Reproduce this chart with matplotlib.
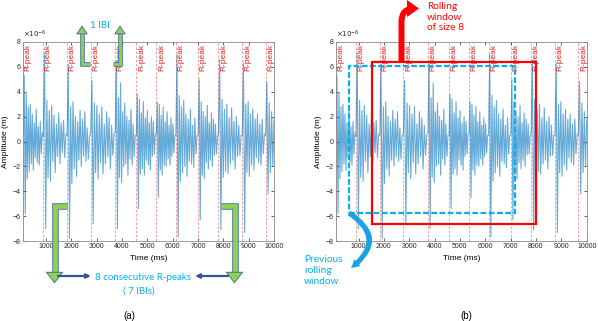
import numpy as np
import matplotlib.pyplot as plt
from matplotlib.patches import FancyArrowPatch, Rectangle
from matplotlib.path import Path
import matplotlib.patheffects as pe

W, H = 598, 321

# R-peak times (ms) and the signal, one list of samples per beat (x1e-6 m)
rpeaks = [110, 900, 1840, 2770, 3740, 4570, 5360, 6130, 7010, 7810, 8750, 9670]
t_end = 10000
beats = [
    [0.6, 5.3, -5.8, 3.9, -3.0, 2.8, -2.4, 3.0, -1.8, 2.2, -2.3, 1.5, -1.3, 2.6, -1.7, 1.2, -1.9, 1.6, -1.0, 0.7],
    [0.4, 7.1, -7.0, 3.3, -2.9, 2.5, -3.2, 2.9, -1.6, 2.1, -2.5, 1.4, -1.2, 2.3, -1.8, 1.5, -0.9, 1.7, -1.3, 0.6],
    [0.5, 6.2, -7.8, 2.8, -3.4, 3.2, -2.2, 2.0, -2.8, 1.6, -1.5, 2.5, -2.0, 1.8, -1.2, 2.4, -1.6, 1.1, -1.4, 0.5],
    [0.6, 4.9, -6.6, 3.1, -2.5, 2.9, -3.0, 2.2, -1.7, 2.8, -2.6, 1.4, -1.8, 2.4, -1.2, 1.9, -2.2, 1.3, -1.1, 0.6],
    [0.7, 6.5, -7.0, 3.5, -2.9, 4.7, -3.3, 2.4, -2.0, 3.1, -1.8, 2.0, -2.7, 1.7, -1.4, 2.6, -1.9, 1.4, -1.2, 0.5],
    [0.5, 3.8, -5.4, 3.4, -2.6, 2.3, -2.2, 3.2, -2.7, 1.9, -1.5, 2.5, -1.9, 1.5, -2.3, 2.0, -1.2, 1.6, -1.0, 0.6],
    [0.6, 3.2, -4.5, 3.0, -2.3, 2.1, -2.7, 2.8, -1.9, 1.6, -2.0, 2.4, -1.4, 1.3, -1.9, 1.9, -1.2, 1.4, -0.9, 0.5],
    [0.5, 7.0, -7.7, 3.7, -3.2, 2.8, -2.5, 3.3, -2.0, 2.2, -2.8, 1.8, -1.6, 2.6, -1.8, 1.3, -2.1, 1.9, -1.0, 0.5],
    [0.6, 5.0, -6.3, 3.2, -2.7, 2.4, -3.0, 2.0, -1.7, 2.9, -2.2, 1.5, -1.5, 2.3, -2.0, 1.8, -1.1, 1.4, -1.0, 0.4],
    [0.7, 6.6, -7.1, 3.4, -2.9, 2.6, -2.4, 3.0, -2.6, 1.9, -1.8, 2.7, -1.5, 1.6, -2.2, 2.0, -1.2, 1.3, -1.1, 0.5],
    [0.5, 6.3, -7.3, 3.0, -2.5, 3.2, -2.8, 2.2, -1.9, 2.6, -2.3, 1.8, -1.3, 2.2, -1.7, 1.4, -1.9, 1.8, -1.0, 0.6],
    [0.5, 4.8, -4.2, 3.1, -2.5, 2.4, -2.0, 1.8],
]
xticks = [1000, 2000, 3000, 4000, 5000, 6000, 7000, 8000, 9000, 10000]
yticks = [-8, -6, -4, -2, 0, 2, 4, 6, 8]

# windows in panel (b): [t start, t end, amp low, amp high]
red_window = [1520, 7990, -6.63, 6.42]
blue_window = [637, 7173, -5.77, 6.1]

GREEN = '#92d050'
EDGE = '#41719c'
LBLUE = '#00b0f0'
DBLUE = '#2f5597'
ann_font = 'Lato'


def signal():
    tt = []
    yy = []
    bounds = rpeaks[1:] + [t_end]
    for k, seg in enumerate(beats):
        last = (k == len(beats) - 1)
        tt.append(np.linspace(rpeaks[k], bounds[k], len(seg), endpoint=last))
        yy.append(seg)
    return np.concatenate(tt), np.concatenate(yy)


def fp(x, y):
    # pixel (from top left) -> figure fraction
    return (x / W, 1 - y / H)


def draw_panel(ax):
    t, y = signal()
    for r in rpeaks:
        ax.axvline(r, color='red', alpha=0.45, lw=0.6, ls=(0, (3, 2)), zorder=1)
        ax.text(r + 200, 7.8, 'R-peak', rotation=90, color='#e02020', fontsize=6,
                ha='center', va='top', zorder=3)
    ax.plot(t, y, color='#0072bd', lw=0.8, alpha=0.6, zorder=2)
    ax.set_xlim(100, 10000)
    ax.set_ylim(-8, 8)
    ax.set_xticks(xticks)
    ax.set_yticks(yticks)
    ax.tick_params(direction='in', length=2, width=0.5, top=True, right=True,
                   labelsize=5, pad=1.5, colors='#262626')
    for s in ax.spines.values():
        s.set_color('#8c8c8c')
        s.set_linewidth(0.6)
    ax.set_xlabel('Time (ms)', fontsize=6)
    ax.set_ylabel('Amplitude (m)', fontsize=6)
    ax.xaxis.set_label_coords(0.5, -0.072)
    ax.yaxis.set_label_coords(-0.055, 0.5)
    ax.text(0.0, 1.008, r'$\times10^{-6}$', transform=ax.transAxes, fontsize=5,
            ha='left', va='bottom', color='#262626')


def elbow(fig, pts, lw, hl, hw):
    verts = [fp(*p) for p in pts]
    a = FancyArrowPatch(path=Path(verts), transform=fig.transFigure,
                        arrowstyle='-|>,head_length=%s,head_width=%s' % (hl, hw),
                        mutation_scale=10, lw=lw, color=GREEN,
                        capstyle='butt', joinstyle='miter', zorder=5,
                        path_effects=[pe.Stroke(linewidth=lw + 1.3, foreground=EDGE),
                                      pe.Normal()])
    fig.add_artist(a)


def straight(fig, p0, p1, color, lw):
    a = FancyArrowPatch(fp(*p0), fp(*p1), transform=fig.transFigure,
                        arrowstyle='-|>,head_length=0.25,head_width=0.12',
                        mutation_scale=10, lw=lw, color=color,
                        shrinkA=0, shrinkB=0, zorder=5)
    fig.add_artist(a)


plt.rcParams['font.family'] = ['Liberation Sans', 'DejaVu Sans']
fig = plt.figure(figsize=(W / 100, H / 100), dpi=100)
ax1 = fig.add_axes([23 / W, 1 - 241 / H, 251 / W, 199 / H])
ax2 = fig.add_axes([335.7 / W, 1 - 241 / H, 251 / W, 199 / H])
draw_panel(ax1)
draw_panel(ax2)

# panel (a) annotations
elbow(fig, [(90, 63.5), (82, 63.5), (82, 27)], 2.0, 0.18, 0.12)
elbow(fig, [(112.5, 63.5), (120, 63.5), (120, 27)], 2.0, 0.18, 0.12)
elbow(fig, [(67, 206), (54.5, 206), (54.5, 282)], 3.4, 0.22, 0.17)
elbow(fig, [(221.5, 206), (234.5, 206), (234.5, 282)], 3.4, 0.22, 0.17)
straight(fig, (58, 276), (91, 276), DBLUE, 1.6)
straight(fig, (228, 276), (195, 276), DBLUE, 1.6)
fig.text(*fp(90, 26), '1 IBI', color=LBLUE, fontsize=7, family=ann_font,
         ha='left', va='center')
fig.text(*fp(143, 277.5), '8 consecutive R-peaks', color=LBLUE, fontsize=7,
         family=ann_font, ha='center', va='center')
fig.text(*fp(139, 291), '( 7 IBIs)', color=LBLUE, fontsize=7, family=ann_font,
         ha='center', va='center')
fig.text(*fp(129.5, 316), '(a)', fontsize=7, ha='center', va='center')

# panel (b) windows
ax2.add_patch(Rectangle((blue_window[0], blue_window[2]), blue_window[1] - blue_window[0],
                        blue_window[3] - blue_window[2], fill=False, ec=LBLUE, lw=1.6,
                        ls=(0, (2.6, 1.1)), zorder=4, clip_on=False))
ax2.add_patch(Rectangle((red_window[0], red_window[2]), red_window[1] - red_window[0],
                        red_window[3] - red_window[2], fill=False, ec='red', lw=1.6,
                        zorder=5, clip_on=False))

# red bent arrow
rverts = [fp(401.5, 62), fp(401.5, 22), fp(401.5, 8.5), fp(414, 8.5), fp(419, 8.5)]
rcodes = [Path.MOVETO, Path.LINETO, Path.CURVE3, Path.CURVE3, Path.LINETO]
fig.add_artist(FancyArrowPatch(path=Path(rverts, rcodes), transform=fig.transFigure,
                               arrowstyle='-|>,head_length=0.28,head_width=0.2',
                               mutation_scale=10, lw=4.3, color='red',
                               capstyle='butt', joinstyle='miter', zorder=5))
fig.text(*fp(427, 17), 'Rolling\nwindow\nof size 8', color='red', fontsize=7.3,
         family=ann_font, ha='left', va='center', linespacing=1.25)

# blue curved arrow
fig.add_artist(FancyArrowPatch(fp(349, 213), fp(351, 268), transform=fig.transFigure,
                               connectionstyle='arc3,rad=-0.7',
                               arrowstyle='simple,head_length=0.6,head_width=0.65,tail_width=0.36',
                               mutation_scale=10, color='#1ba1e2', lw=0,
                               shrinkA=0, shrinkB=0, zorder=5))
fig.text(*fp(304, 270.5), 'Previous\nrolling\nwindow', color=LBLUE, fontsize=7.3,
         family=ann_font, ha='left', va='center', linespacing=1.25)
fig.text(*fp(466.5, 316), '(b)', fontsize=7, ha='center', va='center')

fig.savefig('out.png', dpi=100)
